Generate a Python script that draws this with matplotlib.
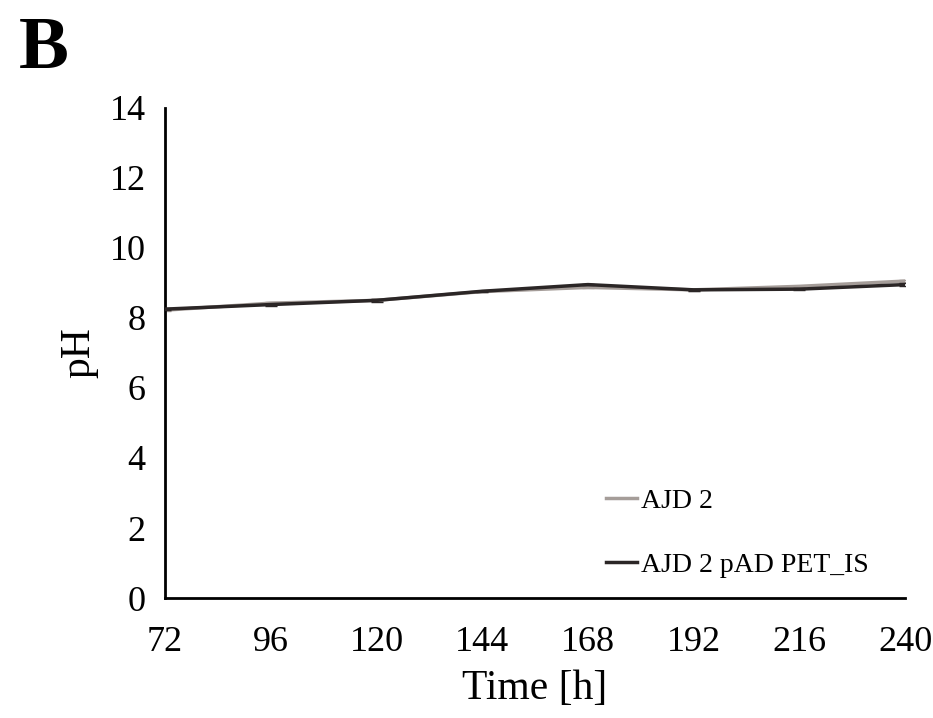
import matplotlib.pyplot as plt
from matplotlib.lines import Line2D
import numpy as np

plt.rcParams['font.family'] = ['Liberation Serif', 'DejaVu Serif']

time_h = [72, 96, 120, 144, 168, 192, 216, 240]
ph_ajd2 = [8.22, 8.42, 8.50, 8.75, 8.87, 8.80, 8.90, 9.05]
ph_ajd2_pet = [8.25, 8.38, 8.50, 8.76, 8.95, 8.80, 8.82, 8.95]
err_ajd2 = [0.03, 0.04, 0.03, 0.02, 0.02, 0.02, 0.02, 0.04]
err_ajd2_pet = [0.03, 0.03, 0.04, 0.02, 0.02, 0.02, 0.03, 0.04]

c_ajd2 = '#a59d99'
c_pet = '#2b2626'

fig = plt.figure(figsize=(9.33, 7.18), dpi=100)
ax = fig.add_axes([0.177, 0.167, 0.793, 0.683])

ax.errorbar(time_h, ph_ajd2, yerr=err_ajd2, color=c_ajd2, lw=2.5,
            capsize=4, elinewidth=1, zorder=2)
ax.errorbar(time_h, ph_ajd2_pet, yerr=err_ajd2_pet, color=c_pet, lw=2.5,
            capsize=4, elinewidth=1, zorder=3)

ax.set_xlim(72, 240)
ax.set_ylim(0, 14)
ax.set_xticks(time_h)
ax.set_yticks(np.arange(0, 15, 2))
ax.tick_params(axis='both', length=0, labelsize=26)
ax.tick_params(axis='x', pad=20)
ax.tick_params(axis='y', pad=14)
for s in ['top', 'right']:
    ax.spines[s].set_visible(False)
for s in ['left', 'bottom']:
    ax.spines[s].set_linewidth(2)
    ax.spines[s].set_color('black')

ax.set_xlabel('Time [h]', fontsize=30, labelpad=8)
ax.set_ylabel('pH', fontsize=30, labelpad=8)

handles = [Line2D([], [], color=c_ajd2, lw=2.5),
           Line2D([], [], color=c_pet, lw=2.5)]
ax.legend(handles, ['AJD 2', 'AJD 2 pAD PET_IS'], loc='lower right',
          bbox_to_anchor=(0.985, -0.01), frameon=False, fontsize=20,
          handlelength=1.1, handletextpad=0.15, labelspacing=1.4)

fig.text(0.02, 0.905, 'B', fontsize=54, fontweight='bold')

fig.savefig('out.png', dpi=100)
